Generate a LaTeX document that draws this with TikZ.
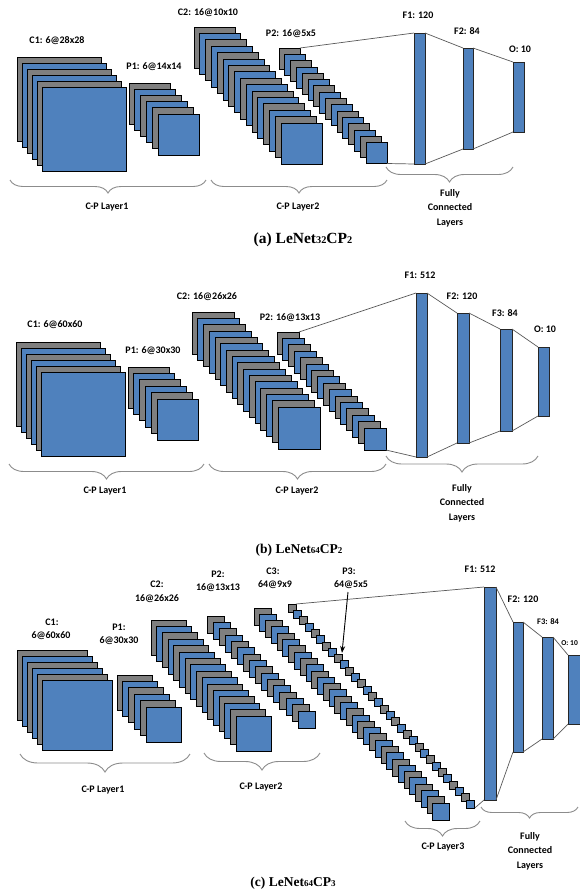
\documentclass[tikz,border=0pt]{standalone}
\usepackage{fontspec}
\setmainfont{Carlito}
\newfontfamily\capfont{Liberation Serif}
\usetikzlibrary{decorations.pathreplacing,arrows.meta}
\definecolor{fmblue}{HTML}{4F81BD}
\definecolor{fmgray}{HTML}{7F7F7F}
\definecolor{lnk}{HTML}{595959}
\definecolor{brc}{HTML}{8C8C8C}
\tikzset{
  sq/.style={draw=black, line width=0.8pt},
  fc/.style={draw=black!85, fill=fmblue, line width=0.8pt, inner sep=0pt, outer sep=0pt},
  lnk/.style={draw=lnk, line width=0.7pt},
  bracestyle/.style={draw=brc, line width=0.9pt, decorate, decoration={brace, mirror, amplitude=#1}},
  lbl/.style={font=\bfseries\fontsize{10}{12}\selectfont, inner sep=0pt},
  slbl/.style={font=\bfseries\fontsize{8.5}{10}\selectfont, inner sep=0pt},
  fcl/.style={font=\bfseries\fontsize{10}{14.5}\selectfont, inner sep=0pt, align=center},
  captext/.style={font=\capfont\bfseries\fontsize{13.5}{16}\selectfont, inner sep=0pt},
  bigcaptext/.style={font=\capfont\bfseries\fontsize{15.5}{18}\selectfont, inner sep=0pt},
}
\newcommand\fmstack[7]{%
  \foreach \i in {0,...,#4}{%
    \ifodd\i \def\fmc{fmblue}\else\def\fmc{fmgray}\fi
    \draw[sq, fill=\fmc] ({#1+\i*#5},{#2+\i*#6}) rectangle ++(#3,#3);
  }%
  \coordinate (#7-first) at ({#1+#3},#2);
  \coordinate (#7-last) at ({#1+#4*#5+#3},{#2+#4*#6+#3});
}
\newcommand\fcbar[5]{%
  \node[fc, minimum width={(#4-#2)*1pt}, minimum height={(#5-#3)*1pt}] (#1) at ({(#2+#4)/2},{(#3+#5)/2}) {};
}
\newcommand\sub[1]{{\fontsize{9}{10}\selectfont #1}}
\newcommand\bigsub[1]{{\fontsize{10.3}{11}\selectfont #1}}
\begin{document}
\begin{tikzpicture}[x=1pt,y=-1pt]
\useasboundingbox[fill=white] (0,0) rectangle (579,895);

% ================= (a) =================
\fmstack{17}{57}{84}{5}{5}{6}{aC1}
\fmstack{129}{83}{41}{5}{5.8}{6.2}{aP1}
\fmstack{194}{27}{41}{15}{5.8}{6.4}{aC2}
\fmstack{279}{48}{21}{15}{5.8}{6.3}{aP2}
\fcbar{aF1}{414}{33}{425}{164}
\fcbar{aF2}{463}{48}{473}{149}
\fcbar{aO}{513}{62}{524}{132}
\draw[lnk] (aP2-first) -- (aF1.north west);
\draw[lnk] (aP2-last) -- (aF1.south west);
\draw[lnk] (aF1.north east) -- (aF2.north west);
\draw[lnk] (aF1.south east) -- (aF2.south west);
\draw[lnk] (aF2.north east) -- (aO.north west);
\draw[lnk] (aF2.south east) -- (aO.south west);
\node[lbl] (aC1l) at (57,41) {C1: 6@28x28};
\node[lbl] (aP1l) at (154,67) {P1: 6@14x14};
\node[lbl] (aC2l) at (208,13) {C2: 16@10x10};
\node[lbl] (aP2l) at (291,34) {P2: 16@5x5};
\node[lbl] (aF1l) at (418,15) {F1: 120};
\node[lbl] (aF2l) at (467,31) {F2: 84};
\node[lbl] (aOl) at (520,49) {O: 10};
\coordinate (aB1s) at (10,180); \coordinate (aB1e) at (206,180);
\coordinate (aB2s) at (211,180); \coordinate (aB2e) at (387,180);
\coordinate (aB3s) at (386,167); \coordinate (aB3e) at (513,167);
\draw[bracestyle=13pt] (aB1s) -- (aB1e);
\draw[bracestyle=13pt] (aB2s) -- (aB2e);
\draw[bracestyle=15pt] (aB3s) -- (aB3e);
\node[lbl] (aL1) at (107,207) {C-P Layer1};
\node[lbl] (aL2) at (298,207) {C-P Layer2};
\node[fcl] (aL3) at (450,208) {Fully\\Connected\\Layers};
\node[bigcaptext] (acap) at (303,240) {(a) LeNet\bigsub{32}CP\bigsub{2}};

% ================= (b) =================
\fmstack{16}{342}{84}{5}{5}{6}{bC1}
\fmstack{128}{367}{41}{5}{5.8}{6.4}{bP1}
\fmstack{192}{312}{42}{15}{5.73}{6.33}{bC2}
\fmstack{277}{332}{22}{15}{5.8}{6.4}{bP2}
\fcbar{bF1}{416}{293}{427}{457}
\fcbar{bF2}{457}{313}{469}{443}
\fcbar{bF3}{500}{329}{512}{431}
\fcbar{bO}{538}{347}{549}{416}
\draw[lnk] (bP2-first) -- (bF1.north west);
\draw[lnk] (bP2-last) -- (bF1.south west);
\draw[lnk] (bF1.north east) -- (bF2.north west);
\draw[lnk] (bF1.south east) -- (bF2.south west);
\draw[lnk] (bF2.north east) -- (bF3.north west);
\draw[lnk] (bF2.south east) -- (bF3.south west);
\draw[lnk] (bF3.north east) -- (bO.north west);
\draw[lnk] (bF3.south east) -- (bO.south west);
\node[lbl] (bC1l) at (55,325) {C1: 6@60x60};
\node[lbl] (bP1l) at (153,351) {P1: 6@30x30};
\node[lbl] (bC2l) at (207,297) {C2: 16@26x26};
\node[lbl] (bP2l) at (290,318) {P2: 16@13x13};
\node[lbl] (bF1l) at (420,275) {F1: 512};
\node[lbl] (bF2l) at (462,296) {F2: 120};
\node[lbl] (bF3l) at (505,313) {F3: 84};
\node[lbl] (bOl) at (545,329) {O: 10};
\coordinate (bB1s) at (9,464); \coordinate (bB1e) at (204,464);
\coordinate (bB2s) at (209,464); \coordinate (bB2e) at (386,464);
\coordinate (bB3s) at (386,456); \coordinate (bB3e) at (538,456);
\draw[bracestyle=15pt] (bB1s) -- (bB1e);
\draw[bracestyle=15pt] (bB2s) -- (bB2e);
\draw[bracestyle=16pt] (bB3s) -- (bB3e);
\node[lbl] (bL1) at (105,491) {C-P Layer1};
\node[lbl] (bL2) at (297,491) {C-P Layer2};
\node[fcl] (bL3) at (462,503) {Fully\\Connected\\Layers};
\node[captext] (bcap) at (299,550) {(b) LeNet\sub{64}CP\sub{2}};

% ================= (c) =================
\fmstack{17}{650}{70}{5}{5}{6}{cC1}
\fmstack{117}{675}{35}{5}{5.8}{6.4}{cP1}
\fmstack{151}{620}{35}{15}{5.67}{6.4}{cC2}
\fmstack{207}{616}{17}{15}{6.07}{6.33}{cP2}
\fmstack{254}{608}{17}{31}{5.77}{6.29}{cC3}
\fmstack{288}{604}{8}{31}{5.77}{6.32}{cP3}
\fcbar{cF1}{484}{587}{496}{800}
\fcbar{cF2}{513}{622}{523}{752}
\fcbar{cF3}{542}{637}{553}{739}
\fcbar{cO}{568}{655}{581}{724}
\draw[lnk] (cP3-first) -- (cF1.north west);
\draw[lnk] (cP3-last) -- (cF1.south west);
\draw[lnk] (cF1.north east) -- (cF2.north west);
\draw[lnk] (cF1.south east) -- (cF2.south west);
\draw[lnk] (cF2.north east) -- (cF3.north west);
\draw[lnk] (cF2.south east) -- (cF3.south west);
\draw[lnk] (cF3.north east) -- (cO.north west);
\draw[lnk] (cF3.south east) -- (cO.south west);
\node[lbl] (cC1a) at (52,622) {C1:};
\node[lbl] (cC1b) at (51,636) {6@60x60};
\node[lbl] (cP1a) at (119,627) {P1:};
\node[lbl] (cP1b) at (119,641) {6@30x30};
\node[lbl] (cC2a) at (157,584) {C2:};
\node[lbl] (cC2b) at (157,599) {16@26x26};
\node[lbl] (cP2a) at (218,574) {P2:};
\node[lbl] (cP2b) at (218,588) {16@13x13};
\node[lbl] (cC3a) at (273,571) {C3:};
\node[lbl] (cC3b) at (275,585) {64@9x9};
\node[lbl] (cP3a) at (349,571) {P3:};
\node[lbl] (cP3b) at (351,585) {64@5x5};
\node[lbl] (cF1l) at (480,569) {F1: 512};
\node[lbl] (cF2l) at (523,599) {F2: 120};
\node[slbl] (cF3l) at (548,622) {F3: 84};
\node[font=\bfseries\fontsize{7.5}{9}\selectfont, inner sep=0pt, anchor=east] (cOl) at (578,643) {O: 10};
\coordinate (cArrS) at (348,592);
\coordinate (cArrE) at (342,653);
\draw[black, line width=0.9pt, -{Stealth[length=7pt,width=5pt]}] (cArrS) -- (cArrE);
\coordinate (cB1s) at (20,754); \coordinate (cB1e) at (190,754);
\coordinate (cB2s) at (204,753); \coordinate (cB2e) at (320,753);
\coordinate (cB3s) at (405,821); \coordinate (cB3e) at (480,821);
\coordinate (cB4s) at (481,807); \coordinate (cB4e) at (578,807);
\draw[bracestyle=18pt] (cB1s) -- (cB1e);
\draw[bracestyle=17pt] (cB2s) -- (cB2e);
\draw[bracestyle=15pt] (cB3s) -- (cB3e);
\draw[bracestyle=11pt] (cB4s) -- (cB4e);
\node[lbl] (cL1) at (103,790) {C-P Layer1};
\node[lbl] (cL2) at (261,787) {C-P Layer2};
\node[lbl] (cL3) at (443,847) {C-P Layer3};
\node[fcl] (cL4) at (530,851) {Fully\\Connected\\Layers};
\node[captext] (ccap) at (293,883) {(c) LeNet\sub{64}CP\sub{3}};
\end{tikzpicture}
\end{document}
